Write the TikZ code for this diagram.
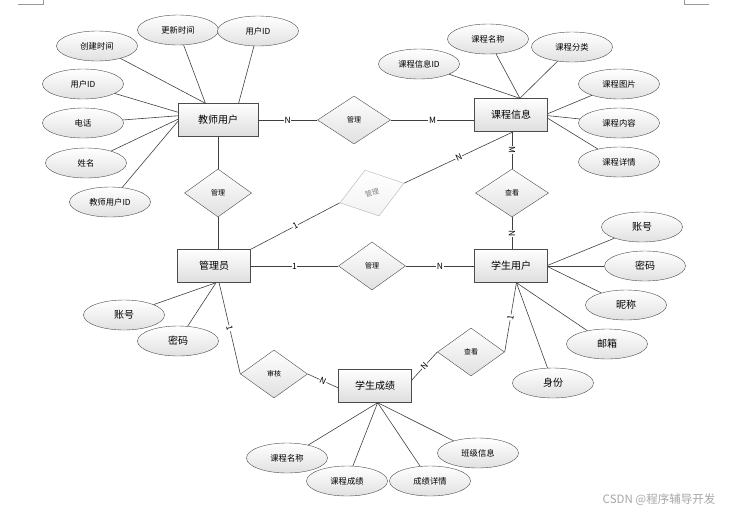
\documentclass[tikz,border=0pt]{standalone}
\usepackage{fontspec}
\setmainfont{Noto Sans CJK SC}
\usetikzlibrary{shapes.geometric}
\begin{document}
\begin{tikzpicture}[x=1pt,y=-1pt,
		entity/.style={draw=black!70,rectangle,minimum width=73pt,minimum height=33pt,top color=white,bottom color=black!13,font=\fontsize{10}{12}\selectfont},
		attr/.style={draw=black!70,ellipse,minimum width=81pt,minimum height=30pt,inner sep=0pt,top color=white,bottom color=black!12,font=\fontsize{8.3}{10}\selectfont},
		bigattr/.style={attr,font=\fontsize{10}{12}\selectfont},
		rel/.style={draw=black!70,diamond,minimum width=67pt,minimum height=48pt,inner sep=0pt,top color=white,bottom color=black!12,font=\fontsize{7}{8}\selectfont},
		link/.style={draw=black!75,line width=0.6pt},
		card/.style={midway,sloped,fill=white,inner sep=0.6pt,font=\fontsize{8.5}{10}\selectfont}]
		\useasboundingbox (0,0) rectangle (732,512);
		\draw[black!40] (18,4) -- (43,4) -- (43,0);
		\draw[black!40] (684,0) -- (684,4) -- (709,4);
		% entities
		\node[entity,minimum width=80pt] (teacher) at (218,120) {教师用户};
		\node[entity] (course) at (511,115) {课程信息};
		\node[entity] (admin) at (214,266) {管理员};
		\node[entity] (student) at (511,266) {学生用户};
		\node[entity] (score) at (375,386) {学生成绩};
		% relations
		\node[rel,minimum width=73pt] (manage1) at (354,120) {管理};
		\node[rel] (manage2) at (218,193) {管理};
		\node[rel] (manage3) at (372,266) {管理};
		\node[rel,draw=black!30,text=black!50,top color=white,bottom color=black!5,rotate=17] (manage4) at (372,193) {管理};
		\node[rel,minimum width=73pt] (look1) at (512,193) {查看};
		\node[rel] (audit) at (274,374) {审核};
		\node[rel] (look2) at (471,352) {查看};
		% teacher attributes
		\node[attr] (tcreate) at (97,46) {创建时间};
		\node[attr] (tupdate) at (178,30) {更新时间};
		\node[attr] (tuid1) at (258,31) {用户ID};
		\node[attr] (tuid2) at (83,84) {用户ID};
		\node[attr] (tphone) at (83,123) {电话};
		\node[attr] (tname) at (86,163) {姓名};
		\node[attr] (tid) at (110,202) {教师用户ID};
		% course attributes
		\node[attr] (cname) at (488,39) {课程名称};
		\node[attr] (ctype) at (572,47) {课程分类};
		\node[attr] (cid) at (419,64) {课程信息ID};
		\node[attr] (cpic) at (619,84) {课程图片};
		\node[attr] (ctext) at (619,123) {课程内容};
		\node[attr] (cdetail) at (619,162) {课程详情};
		% student attributes
		\node[bigattr] (sacc) at (642,227) {账号};
		\node[bigattr] (spwd) at (645,266) {密码};
		\node[bigattr] (snick) at (626,305) {昵称};
		\node[bigattr] (smail) at (607,344) {邮箱};
		\node[bigattr] (srole) at (553,383) {身份};
		% admin attributes
		\node[bigattr] (aacc) at (124,315) {账号};
		\node[bigattr] (apwd) at (178,341) {密码};
		% score attributes
		\node[attr] (gname) at (287,458) {课程名称};
		\node[attr] (gscore) at (347,481) {课程成绩};
		\node[attr] (gdetail) at (430,481) {成绩详情};
		\node[attr] (gclass) at (478,453) {班级信息};
		\node[font=\fontsize{11.5}{13}\selectfont,text=black!35] (mark) at (659,500) {CSDN @程序辅导开发};
		% attribute links
		\draw[link] (tcreate) -- (teacher.127);
		\draw[link] (tupdate) -- (teacher.127);
		\draw[link] (tuid1) -- (teacher.39);
		\draw[link] (tuid2) -- (teacher.169);
		\draw[link] (tphone) -- (teacher.174);
		\draw[link] (tname) -- (teacher.179);
		\draw[link] (tid) -- (teacher.182);
		\draw[link] (cid) -- (course.62);
		\draw[link] (cname) -- (course.62);
		\draw[link] (ctype) -- (course.62);
		\draw[link] (cpic) -- (course.2);
		\draw[link] (ctext) -- (course.-1);
		\draw[link] (cdetail) -- (course.-5);
		\draw[link] (sacc) -- (student.1);
		\draw[link] (spwd) -- (student.0);
		\draw[link] (snick) -- (student.-1);
		\draw[link] (smail) -- (student.-72);
		\draw[link] (srole) -- (student.-72);
		\draw[link] (aacc) -- (admin.-83);
		\draw[link] (apwd) -- (admin.-83);
		\draw[link] (gname) -- (score.-81);
		\draw[link] (gscore) -- (score.-81);
		\draw[link] (gdetail) -- (score.-81);
		\draw[link] (gclass) -- (score.-81);
		% relation links
		\draw[link] (teacher.east) -- (manage1.west) node[card] {N};
		\draw[link] (manage1.east) -- (manage1.east -| course.west) node[card] {M};
		\draw[link] (teacher.south) -- (manage2.north);
		\draw[link] (manage2.south) -- (manage2.south |- admin.north);
		\draw[link] (admin.east) -- (manage3.west) node[card] {1};
		\draw[link] (manage3.east) -- (student.west) node[card] {N};
		\draw[link] (admin.north east) -- (manage4.west) node[card] {1};
		\draw[link] (manage4.east) -- (course.-82) node[card] {N};
		\draw[link] (course.south -| look1.north) -- (look1.north) node[card] {M};
		\draw[link] (look1.south) -- (look1.south |- student.north) node[card] {N};
		\draw[link] (admin.-73) -- (audit.west) node[card] {1};
		\draw[link] (audit.east) -- (score.183) node[card] {N};
		\draw[link] (look2.west) -- (score.9) node[card] {N};
		\draw[link] (look2.east) -- (student.-72) node[card] {1};
	\end{tikzpicture}
\end{document}
